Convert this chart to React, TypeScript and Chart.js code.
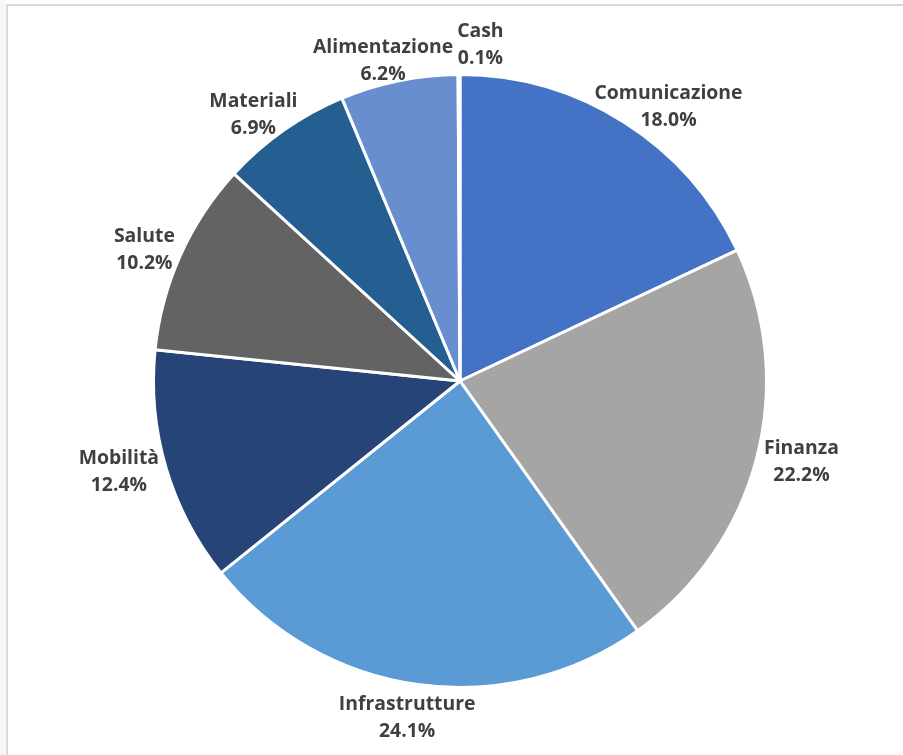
import React, { useEffect, useRef } from "react";
import { Chart, registerables } from "chart.js";

Chart.register(...registerables);

const categories = [
  "Comunicazione",
  "Finanza",
  "Infrastrutture",
  "Mobilità",
  "Salute",
  "Materiali",
  "Alimentazione",
  "Cash",
];
const weights = [18.0, 22.2, 24.1, 12.4, 10.2, 6.9, 6.2, 0.1];
const sliceColors = [
  "#4472C4",
  "#A5A5A5",
  "#5B9BD5",
  "#264478",
  "#636363",
  "#255E91",
  "#698ED0",
  "#B7B7B7",
];

const LABEL_FONT = "bold 19.4px 'Open Sans'";
const LINE_H = 27;

const outsideLabels = {
  id: "outsideLabels",
  afterDatasetsDraw(chart: any) {
    const ctx = chart.ctx as CanvasRenderingContext2D;
    const meta = chart.getDatasetMeta(0);
    ctx.save();
    ctx.font = LABEL_FONT;
    ctx.fillStyle = "#404040";
    ctx.textAlign = "center";
    ctx.textBaseline = "middle";
    const gap = 9;
    const kDown = 25;
    const kUp = 11;
    const boxes: { l: number; r: number; t: number; b: number; cx: number }[] = [];
    meta.data.forEach((arc: any, i: number) => {
      const p = arc.getProps(["x", "y", "startAngle", "endAngle", "outerRadius"], true);
      const mid = (p.startAngle + p.endAngle) / 2;
      const c = Math.cos(mid);
      const s = Math.sin(mid);
      const l1 = categories[i];
      const l2 = weights[i].toFixed(1) + "%";
      const w = Math.max(ctx.measureText(l1).width, ctx.measureText(l2).width);
      const h = LINE_H * 2;
      const r = p.outerRadius + gap;
      let cx = p.x + c * r + (c * w) / 2;
      let cy = p.y + s * r + s * Math.abs(s) * (s > 0 ? kDown : kUp);
      // simple collision avoidance with earlier labels
      for (let k = 0; k < boxes.length; k++) {
        const b = boxes[k];
        const l = cx - w / 2, rr = cx + w / 2, t = cy - h / 2, bt = cy + h / 2;
        if (l < b.r && rr > b.l && t < b.b && bt > b.t) {
          if (cx >= b.cx) {
            cx = b.r + 4 + w / 2;
          } else {
            cx = b.l - 4 - w / 2;
          }
          cy -= 10;
        }
      }
      boxes.push({ l: cx - w / 2, r: cx + w / 2, t: cy - h / 2, b: cy + h / 2, cx });
      ctx.fillText(l1, cx, cy - LINE_H / 2);
      ctx.fillText(l2, cx, cy + LINE_H / 2);
    });
    ctx.restore();
  },
};

export default function App() {
  const ref = useRef<HTMLCanvasElement | null>(null);

  useEffect(() => {
    if (!ref.current) return;
    const chart = new Chart(ref.current, {
      type: "pie",
      data: {
        labels: categories,
        datasets: [
          {
            data: weights,
            backgroundColor: sliceColors,
            borderColor: "#FFFFFF",
            borderWidth: 3,
          },
        ],
      },
      options: {
        animation: false,
        responsive: false,
        maintainAspectRatio: false,
        layout: { padding: { left: 100, right: 83, top: 73, bottom: 66 } },
        plugins: {
          legend: { display: false },
          tooltip: { enabled: false },
        },
      },
      plugins: [outsideLabels],
    });
    return () => chart.destroy();
  }, []);

  return (
    <div
      style={{
        position: "fixed",
        left: 0,
        top: 0,
        width: 903,
        height: 755,
        background: "#FFFFFF",
        overflow: "hidden",
      }}
    >
      <div
        style={{
          position: "absolute",
          left: 0,
          top: 0,
          width: 6,
          height: 755,
          background: "#F7F7F7",
        }}
      />
      <div
        style={{
          position: "absolute",
          left: 6,
          top: 4,
          width: 903,
          height: 760,
          borderLeft: "2px solid #D9D9D9",
          borderTop: "2px solid #D9D9D9",
          background: "#FFFFFF",
        }}
      />
      <canvas
        ref={ref}
        width={903}
        height={755}
        style={{ position: "absolute", left: 0, top: 0, display: "block" }}
      />
    </div>
  );
}
